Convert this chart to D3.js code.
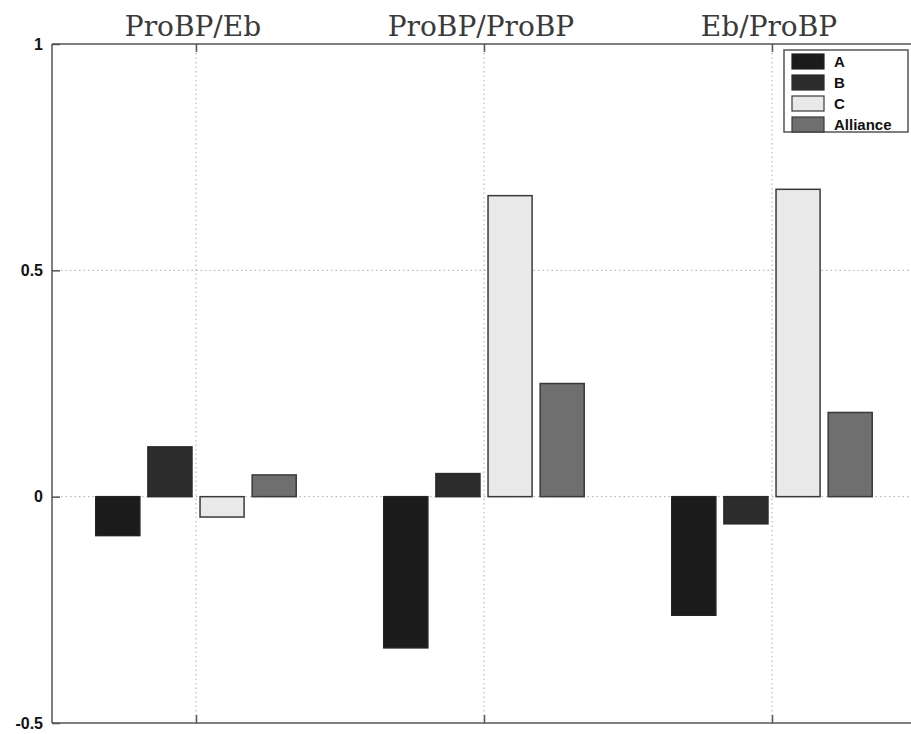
<!DOCTYPE html>
<html>
<head>
<meta charset="utf-8">
<script src="https://cdn.jsdelivr.net/npm/d3@7"></script>
<style>
  html, body { margin: 0; padding: 0; background: #fff; }
  svg { display: block; }
</style>
</head>
<body>
<script>
const categories = ["ProBP/Eb", "ProBP/ProBP", "Eb/ProBP"];
const seriesNames = ["A", "B", "C", "Alliance"];
const valuesA = [-0.086, -0.334, -0.262];
const valuesB = [0.110, 0.051, -0.060];
const valuesC = [-0.045, 0.665, 0.679];
const valuesAlliance = [0.048, 0.250, 0.186];
const yTicks = [-0.5, 0, 0.5, 1];
const yTickLabels = ["-0.5", "0", "0.5", "1"];

const series = [valuesA, valuesB, valuesC, valuesAlliance];
const fills = ["#1b1b1b", "#2c2c2c", "#e9e9e9", "#6f6f6f"];
const strokes = ["#222", "#2a2a2a", "#3a3a3a", "#3a3a3a"];

const W = 911, H = 734;
const svg = d3.select("body").append("svg").attr("width", W).attr("height", H);

const x = d3.scaleLinear().domain([0.5, 3.5]).range([52, 916]);
const y = d3.scaleLinear().domain([-0.5, 1]).range([723, 44]);

const barW = 0.153, step = 0.181;

// grid (dotted)
const grid = svg.append("g").attr("stroke", "#aaa").attr("stroke-width", 1).attr("stroke-dasharray", "1.5,3");
[0, 0.5].forEach(v => grid.append("line").attr("x1", x(0.5)).attr("x2", W).attr("y1", y(v)).attr("y2", y(v)));
categories.forEach((c, i) => grid.append("line").attr("x1", x(i + 1)).attr("x2", x(i + 1)).attr("y1", y(1)).attr("y2", y(-0.5)));

// bars
series.forEach((vals, s) => {
  svg.append("g").selectAll("rect").data(vals).join("rect")
    .attr("x", (d, i) => x(i + 1 + (s - 1.5) * step - barW / 2))
    .attr("width", x(barW) - x(0))
    .attr("y", d => y(Math.max(0, d)))
    .attr("height", d => Math.abs(y(d) - y(0)))
    .attr("fill", fills[s])
    .attr("stroke", strokes[s])
    .attr("stroke-width", 1.5);
});

// frame
const frame = svg.append("g").attr("stroke", "#555").attr("stroke-width", 1.5).attr("fill", "none");
frame.append("line").attr("x1", x(0.5)).attr("x2", x(0.5)).attr("y1", y(1)).attr("y2", y(-0.5));
frame.append("line").attr("x1", x(0.5)).attr("x2", W).attr("y1", y(1)).attr("y2", y(1));
frame.append("line").attr("x1", x(0.5)).attr("x2", W).attr("y1", y(-0.5)).attr("y2", y(-0.5));

// y axis ticks
const yAxis = d3.axisLeft(y).tickValues(yTicks).tickSize(-8).tickPadding(9)
  .tickFormat((d, i) => yTickLabels[i]);
const gy = svg.append("g").attr("transform", `translate(${x(0.5)},0)`).call(yAxis);
gy.select(".domain").remove();
gy.selectAll("line").attr("stroke", "#555").attr("stroke-width", 1.5);
gy.selectAll("text").attr("font-family", "Liberation Sans, Arial, sans-serif")
  .attr("font-weight", "bold").attr("font-size", 16).attr("fill", "#111");

// x axis ticks bottom and top
const xb = d3.axisBottom(x).tickValues([1, 2, 3]).tickSize(-8).tickFormat("");
const gxb = svg.append("g").attr("transform", `translate(0,${y(-0.5)})`).call(xb);
gxb.select(".domain").remove();
gxb.selectAll("line").attr("stroke", "#555").attr("stroke-width", 1.5);
const xt = d3.axisTop(x).tickValues([1, 2, 3]).tickSize(-8).tickFormat("");
const gxt = svg.append("g").attr("transform", `translate(0,${y(1)})`).call(xt);
gxt.select(".domain").remove();
gxt.selectAll("line").attr("stroke", "#555").attr("stroke-width", 1.5);

// titles
svg.append("g").selectAll("text").data(categories).join("text")
  .attr("x", (d, i) => x(i + 1) - 3)
  .attr("y", 36)
  .attr("text-anchor", "middle")
  .attr("font-family", "DejaVu Serif, serif")
  .attr("font-size", 28)
  .attr("fill", "#3a3a3a")
  .text(d => d);

// legend
const lg = svg.append("g").attr("transform", "translate(784,50)");
lg.append("rect").attr("width", 124).attr("height", 82).attr("fill", "#fff")
  .attr("stroke", "#555").attr("stroke-width", 1.5);
seriesNames.forEach((n, i) => {
  const g = lg.append("g").attr("transform", `translate(0,${11 + i * 21})`);
  g.append("rect").attr("x", 8).attr("y", -7).attr("width", 32).attr("height", 15)
    .attr("fill", fills[i]).attr("stroke", strokes[i]).attr("stroke-width", 1.2);
  g.append("text").attr("x", 50).attr("y", 6)
    .attr("font-family", "Liberation Sans, Arial, sans-serif")
    .attr("font-weight", "bold").attr("font-size", 15).attr("fill", "#111").text(n);
});
</script>
</body>
</html>
